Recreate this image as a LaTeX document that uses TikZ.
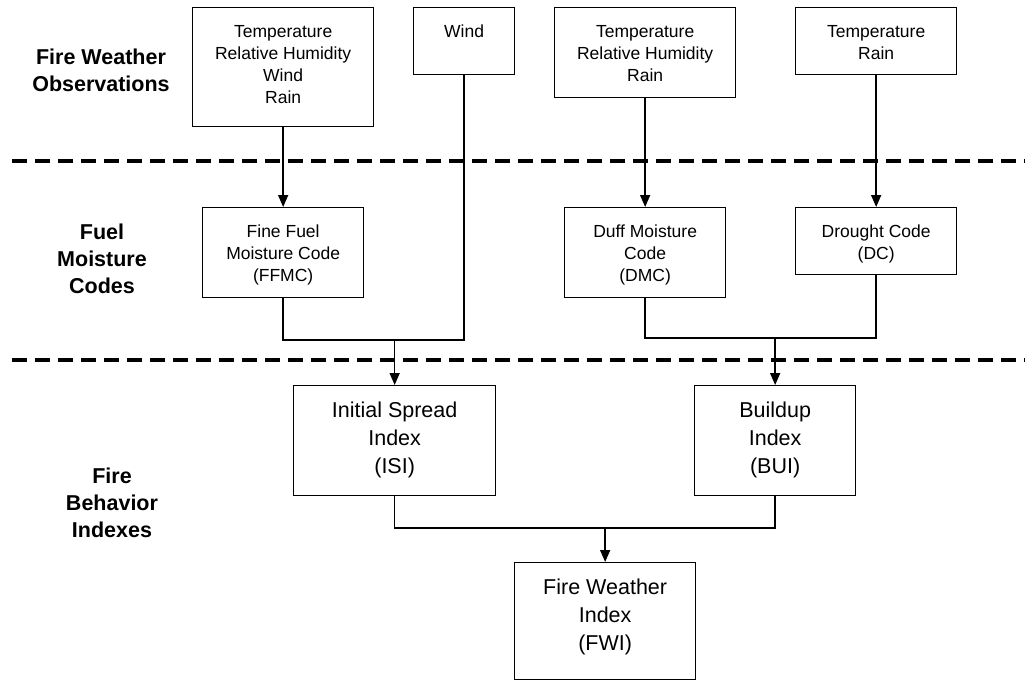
\documentclass[tikz,border=0pt]{standalone}
\usepackage{fontspec}
\setmainfont{Liberation Sans}
\usetikzlibrary{arrows.meta}

\newcommand{\cellbox}[4][30pt]{\parbox[c][#3][t]{#2}{\centering\rule{0pt}{#1}#4}}

\begin{document}
\begin{tikzpicture}[x=1pt, y=-1pt,
  box/.style={draw, line width=1.3pt, inner sep=0pt, anchor=north west, font=\fontsize{17.5}{22}\selectfont},
  bigbox/.style={box, font=\fontsize{21.5}{28}\selectfont},
  hdr/.style={align=center, font=\bfseries\fontsize{21.5}{27}\selectfont},
  wire/.style={line width=1.5pt},
  flow/.style={wire, -{Triangle[length=12pt, width=10pt]}},
  sep/.style={line width=3.5pt, dash pattern=on 15pt off 8pt}]
  \useasboundingbox (0,0) rectangle (1025,680);

  \node[hdr] (obs) at (101,70) {Fire Weather\\Observations};
  \node[hdr] (fmc) at (102,259) {Fuel\\Moisture\\Codes};
  \node[hdr] (fbi) at (112,503) {Fire\\Behavior\\Indexes};

  \foreach \y in {161,360} \draw[sep] (12,\y) -- (1025,\y);

  % observations
  \node[box] (wx1) at (192,7) {\cellbox{181pt}{119pt}{Temperature\\Relative Humidity\\Wind\\Rain}};
  \node[box] (wind) at (413,7) {\cellbox{101pt}{67pt}{Wind}};
  \node[box] (wx3) at (554,7) {\cellbox{181pt}{90pt}{Temperature\\Relative Humidity\\Rain}};
  \node[box] (wx4) at (795,7) {\cellbox{161pt}{67pt}{Temperature\\Rain}};

  % moisture codes
  \node[box] (ffmc) at (202,207) {\cellbox{161pt}{90pt}{Fine Fuel\\Moisture Code\\(FFMC)}};
  \node[box] (dmc) at (564,207) {\cellbox{161pt}{90pt}{Duff Moisture\\Code\\(DMC)}};
  \node[box] (dc) at (795,207) {\cellbox{161pt}{67pt}{Drought Code\\(DC)}};

  % indexes
  \node[bigbox] (isi) at (293,385) {\cellbox[32pt]{202pt}{110pt}{Initial Spread\\Index\\(ISI)}};
  \node[bigbox] (bui) at (694,385) {\cellbox[32pt]{161pt}{110pt}{Buildup\\Index\\(BUI)}};
  \node[bigbox] (fwi) at (514,562) {\cellbox[32pt]{181pt}{117pt}{Fire Weather\\Index\\(FWI)}};

  \coordinate (jisi) at (isi.north |- 0,340);
  \coordinate (jbui) at (bui.north |- 0,338);
  \coordinate (jfwi) at (fwi.north |- 0,528);

  \draw[flow] (wx1.south) -- (ffmc.north);
  \draw[flow] (wx3.south) -- (dmc.north);
  \draw[flow] (wx4.south) -- (dc.north);

  \draw[wire] (ffmc.south) |- (wind.south |- jisi) -- (wind.south);
  \draw[flow] (jisi) -- (isi.north);
  \draw[wire] (dmc.south) |- (dc.south |- jbui) -- (dc.south);
  \draw[flow] (jbui) -- (bui.north);
  \draw[wire] (isi.south) |- (bui.south |- jfwi) -- (bui.south);
  \draw[flow] (jfwi) -- (fwi.north);
\end{tikzpicture}
\end{document}
